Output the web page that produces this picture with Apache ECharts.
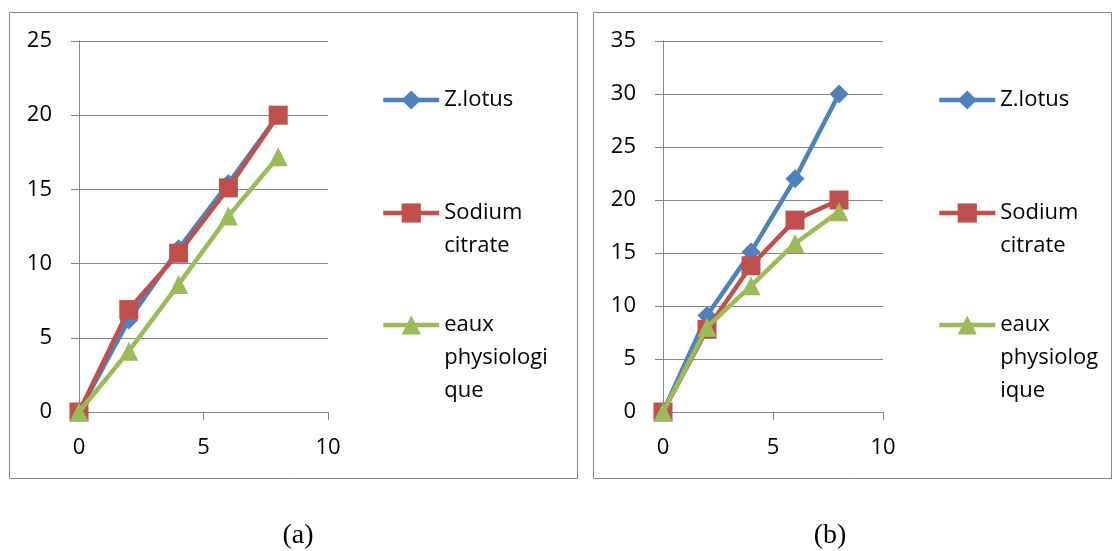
<!DOCTYPE html>
<html>
<head>
<meta charset="utf-8">
<script src="https://cdn.jsdelivr.net/npm/echarts@6/dist/echarts.min.js"></script>
<style>
html,body{margin:0;padding:0;background:#fff;}
#chart{width:1112px;height:551px;}
</style>
</head>
<body>
<div id="chart"></div>
<script>
// ---- data ----
const seriesNames = ['Z.lotus', 'Sodium citrate', 'eaux physiologique'];
const xValues = [0, 2, 4, 6, 8];
// panel (a)
const aZlotus = [0, 6.2, 11, 15.4, 20];
const aSodium = [0, 6.9, 10.7, 15.1, 20];
const aEaux = [0, 4.1, 8.6, 13.2, 17.2];
// panel (b)
const bZlotus = [0, 9.1, 15.1, 22, 30];
const bSodium = [0, 7.8, 13.8, 18.1, 20];
const bEaux = [0, 8, 11.9, 15.9, 18.9];
// tick settings
const xTicks = { min: 0, max: 10, interval: 5 };
const aYTicks = { min: 0, max: 25, interval: 5 };
const bYTicks = { min: 0, max: 35, interval: 5 };
// legend label line breaks (as in picture)
const aLegendLabels = ['Z.lotus', 'Sodium\ncitrate', 'eaux\nphysiologi\nque'];
const bLegendLabels = ['Z.lotus', 'Sodium\ncitrate', 'eaux\nphysiolog\nique'];
const captions = ['(a)', '(b)'];

const colors = ['#4F81BD', '#C0504D', '#9BBB59'];
const symbols = ['diamond', 'rect', 'triangle'];
const gray = '#868686';
const font = 'Open Sans';

function pairs(ys) { return xValues.map((x, i) => [x, ys[i]]); }

function xAxis(gridIndex) {
  return {
    type: 'value', gridIndex, min: xTicks.min, max: xTicks.max, interval: xTicks.interval,
    axisLine: { show: true, lineStyle: { color: gray, width: 1 } },
    axisTick: { show: true, length: 8, inside: false, lineStyle: { color: gray } },
    splitLine: { show: false },
    axisLabel: { color: '#000', fontFamily: font, fontSize: 22, margin: 25 }
  };
}
function yAxis(gridIndex, t) {
  return {
    type: 'value', gridIndex, min: t.min, max: t.max, interval: t.interval,
    axisLine: { show: true, lineStyle: { color: gray, width: 1 } },
    axisTick: { show: true, length: 8, lineStyle: { color: gray } },
    splitLine: { show: true, lineStyle: { color: gray, width: 1 } },
    axisLabel: { color: '#000', fontFamily: font, fontSize: 22, margin: 27 }
  };
}
function lineSeries(i, ys, idx) {
  return {
    type: 'line', name: seriesNames[i], xAxisIndex: idx, yAxisIndex: idx,
    data: pairs(ys), symbol: symbols[i], symbolSize: 19, showSymbol: true,
    lineStyle: { color: colors[i], width: 4.5 },
    itemStyle: { color: colors[i] },
    emphasis: { disabled: true }, animation: false, z: 2 + i
  };
}

const L = 33; // legend line height
const legendCenters = [100, 213, 325];
function legends(left, labels) {
  return seriesNames.map((name, i) => {
    const n = labels[i].split('\n').length;
    const H = (2 * n - 1) * L;
    const text = ' \n'.repeat(n - 1) + labels[i];
    return {
      orient: 'vertical', left, top: legendCenters[i] - H / 2,
      padding: 0, itemWidth: 56, itemHeight: 24, itemGap: 0,
      selectedMode: false,
      data: [name],
      formatter: () => text,
      lineStyle: { width: 4.5 },
      textStyle: { color: '#000', fontFamily: font, fontSize: 22, lineHeight: L }
    };
  });
}

const chart = echarts.init(document.getElementById('chart'), null, { renderer: 'canvas' });
chart.setOption({
  backgroundColor: '#fff',
  animation: false,
  grid: [
    { left: 79, right: 1112 - 328, top: 41, bottom: 551 - 412 },
    { left: 663, right: 1112 - 883, top: 41, bottom: 551 - 412 }
  ],
  xAxis: [xAxis(0), xAxis(1)],
  yAxis: [yAxis(0, aYTicks), yAxis(1, bYTicks)],
  legend: legends(381, aLegendLabels).concat(legends(937, bLegendLabels)),
  series: [
    lineSeries(0, aZlotus, 0), lineSeries(1, aSodium, 0), lineSeries(2, aEaux, 0),
    lineSeries(0, bZlotus, 1), lineSeries(1, bSodium, 1), lineSeries(2, bEaux, 1)
  ],
  graphic: [
    { type: 'rect', shape: { x: 9.5, y: 12.5, width: 568, height: 466 }, style: { fill: 'none', stroke: gray, lineWidth: 1 }, silent: true },
    { type: 'rect', shape: { x: 593.5, y: 12.5, width: 518, height: 466 }, style: { fill: 'none', stroke: gray, lineWidth: 1 }, silent: true },
    { type: 'text', x: 298, y: 536, style: { text: captions[0], fill: '#000', font: '28px "Liberation Serif"', align: 'center', verticalAlign: 'middle' }, silent: true },
    { type: 'text', x: 830, y: 536, style: { text: captions[1], fill: '#000', font: '28px "Liberation Serif"', align: 'center', verticalAlign: 'middle' }, silent: true }
  ]
});
</script>
</body>
</html>
